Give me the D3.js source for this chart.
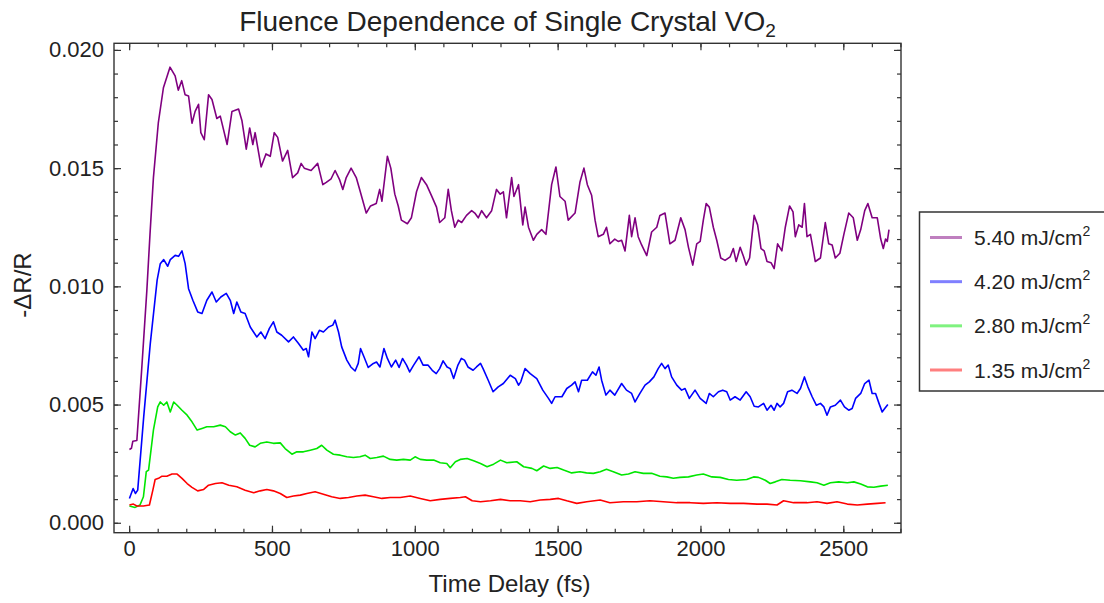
<!DOCTYPE html>
<html><head><meta charset="utf-8">
<script src="https://cdn.jsdelivr.net/npm/d3@7"></script>
<style>
body{margin:0;background:#fff}
svg{display:block}
text{font-family:"Liberation Sans",Arial,sans-serif;fill:#222}
</style>
</head><body>
<svg id="chart" width="1104" height="603"></svg>
<script>
// ---------- data (values read in units of 1e-3 of -ΔR/R) ----------
const VALUE_UNIT = 1e-3;
const xTicks = [0, 500, 1000, 1500, 2000, 2500];
const xMinorTicks = [0,100,200,300,400,500,600,700,800,900,1000,1100,1200,1300,1400,1500,1600,1700,1800,1900,2000,2100,2200,2300,2400,2500,2600,2700];
const yTicks = [0, 0.005, 0.010, 0.015, 0.020];
const yMinorTicks = [0,0.001,0.002,0.003,0.004,0.005,0.006,0.007,0.008,0.009,0.010,0.011,0.012,0.013,0.014,0.015,0.016,0.017,0.018,0.019,0.020];
const seriesLabels = ["5.40", "4.20", "2.80", "1.35"];

const purpleT = [1,8,13,27,44,62,73,85,102,120,143,161,172,184,196,208,220,231,243,251,263,278,290,307,319,343,360,383,395,410,422,433,441,462,479,494,508,520,537,555,572,590,602,613,637,660,678,690,707,721,737,748,760,777,795,807,830,845,865,877,885,904,916,930,942,953,974,988,1006,1023,1041,1058,1076,1087,1105,1117,1128,1140,1152,1164,1181,1199,1210,1222,1234,1251,1269,1286,1299,1310,1321,1339,1347,1363,1378,1386,1398,1415,1427,1444,1459,1479,1494,1508,1526,1537,1561,1578,1592,1604,1619,1631,1642,1660,1671,1683,1700,1712,1724,1736,1751,1759,1771,1782,1794,1812,1829,1847,1858,1876,1893,1911,1931,1946,1958,1973,1987,1999,2010,2020,2031,2045,2057,2071,2086,2104,2115,2125,2139,2151,2160,2172,2188,2200,2212,2223,2233,2247,2258,2270,2285,2297,2312,2324,2332,2344,2356,2364,2373,2385,2402,2420,2437,2449,2461,2472,2488,2502,2519,2535,2549,2561,2575,2586,2601,2619,2631,2640,2648,2654,2660];
const purpleV = [3.10,3.15,3.45,3.48,6.5,9.83,12.2,14.6,16.9,18.4,19.27,18.9,18.3,18.7,18.1,18.05,16.9,17.4,17.7,16.5,16.2,18.1,17.9,17.1,17.2,16.0,17.4,17.5,17.0,15.8,16.7,16.0,16.5,15.05,15.6,15.5,16.5,16.3,15.3,15.75,14.6,14.8,15.2,15.0,14.9,15.2,14.3,14.4,14.55,14.9,14.5,14.1,14.6,15.0,14.6,14.1,13.1,13.4,13.5,14.1,13.6,15.5,15.0,13.9,13.4,12.8,12.65,12.9,14.0,14.6,14.3,13.85,13.35,12.7,12.9,14.1,13.2,12.5,12.8,12.7,13.0,13.2,13.1,12.9,13.2,12.9,13.2,14.1,13.9,14.0,12.9,14.6,13.8,14.3,12.6,13.35,12.5,11.95,12.2,12.4,12.2,14.3,15.05,13.8,13.6,12.8,13.1,14.4,15.0,14.3,13.85,12.8,12.1,12.2,12.5,11.8,12.0,11.9,11.95,11.5,13.0,12.1,12.9,12.1,11.75,11.3,12.3,12.5,13.0,13.1,11.8,11.95,12.9,12.4,11.65,10.9,11.8,11.9,12.8,13.5,13.35,12.5,11.95,11.2,11.1,11.25,11.6,11.05,11.65,11.25,10.9,11.2,13.0,12.6,11.6,11.5,11.05,11.0,10.75,11.8,11.5,12.5,13.4,13.15,12.1,12.6,12.5,13.5,12.1,12.2,11.05,11.2,12.7,11.8,11.75,11.2,11.4,12.2,13.1,12.9,11.95,12.4,13.2,13.5,12.9,12.9,12.0,11.6,12.0,11.9,12.4];

const blueT = [1,14,22,30,51,74,98,109,121,135,144,161,173,185,196,208,223,240,255,272,290,305,321,340,354,366,377,391,406,424,447,461,476,491,505,517,534,558,575,593,610,620,628,640,651,666,680,698,713,721,733,744,762,776,791,802,810,822,837,855,866,878,892,904,918,933,945,957,971,982,996,1015,1029,1046,1061,1075,1087,1099,1113,1124,1136,1151,1163,1174,1186,1204,1216,1230,1239,1257,1274,1292,1310,1334,1352,1363,1371,1386,1404,1427,1448,1468,1479,1491,1515,1532,1549,1561,1573,1584,1604,1622,1634,1645,1654,1669,1683,1700,1724,1741,1759,1771,1788,1806,1821,1837,1852,1864,1876,1887,1899,1917,1934,1946,1961,1981,1999,2020,2031,2045,2063,2078,2092,2104,2121,2139,2160,2174,2188,2203,2221,2233,2247,2258,2268,2279,2291,2305,2320,2338,2350,2364,2376,2391,2406,2420,2432,2443,2455,2472,2490,2504,2519,2531,2543,2561,2575,2590,2601,2613,2625,2636,2645,2656];
const blueV = [1.03,1.45,1.24,1.38,4.48,7.58,10.26,10.96,11.13,10.85,11.13,11.31,11.27,11.5,10.96,9.9,9.41,8.92,8.85,9.41,9.76,9.34,9.55,9.7,9.41,8.85,9.34,8.92,8.85,8.28,7.86,8.07,7.79,8.22,8.5,8.07,7.93,7.65,7.86,7.58,7.3,7.37,7.02,8.07,7.79,8.14,8.07,8.28,8.36,8.57,8.07,7.44,6.88,6.59,6.42,6.74,7.37,7.02,6.57,6.74,6.8,6.59,7.37,6.95,6.59,6.88,6.57,6.95,6.67,6.38,6.67,7.02,6.67,6.67,6.45,6.31,6.52,6.85,6.59,6.52,6.1,6.67,6.95,6.88,6.59,6.45,6.59,6.74,6.52,6.03,5.54,5.75,5.89,6.24,6.1,5.82,5.96,6.52,6.31,6.1,5.61,5.26,5.05,5.33,5.33,5.68,5.82,5.96,5.54,6.03,6.03,6.38,6.24,6.59,6.03,5.4,5.61,5.4,5.89,5.61,5.47,5.11,5.47,5.82,5.96,6.17,6.52,6.74,6.52,6.67,6.17,5.82,5.61,5.68,5.26,5.61,5.26,5.05,5.47,5.33,5.54,5.61,5.54,5.19,5.33,5.19,5.54,5.33,4.93,4.9,5.05,4.76,4.97,4.76,5.05,4.9,5.05,5.54,5.61,5.47,5.68,6.17,5.75,5.33,4.97,5.05,4.9,4.55,4.9,4.97,5.19,4.9,4.76,4.83,5.26,5.47,5.89,6.03,5.47,5.47,5.05,4.69,4.83,5.0];

const greenT = [1,21,38,50,60,68,85,100,109,121,132,144,156,168,185,203,220,238,255,272,296,319,337,354,372,389,406,422,441,459,482,505,529,546,570,587,610,634,657,674,692,715,739,762,785,808,826,844,867,890,914,937,960,984,1001,1019,1042,1066,1089,1112,1124,1142,1159,1183,1206,1230,1253,1276,1300,1322,1357,1381,1410,1427,1451,1474,1498,1521,1549,1578,1601,1625,1649,1671,1695,1724,1748,1771,1800,1829,1858,1882,1905,1928,1958,1987,2010,2040,2069,2098,2127,2162,2186,2203,2227,2244,2262,2285,2314,2350,2385,2408,2432,2455,2484,2514,2537,2561,2584,2607,2631,2656];
const greenV = [0.71,0.65,0.75,1.1,2.16,2.23,3.92,4.9,5.11,4.97,5.11,4.69,5.11,4.97,4.76,4.55,4.27,3.92,3.99,4.06,4.06,4.13,4.06,3.85,3.71,3.8,3.57,3.28,3.21,3.36,3.42,3.36,3.38,3.14,2.9,3.0,3.0,3.07,3.14,3.28,3.07,2.9,2.86,2.79,2.76,2.79,2.86,2.72,2.76,2.82,2.68,2.65,2.68,2.65,2.79,2.68,2.65,2.65,2.54,2.51,2.33,2.58,2.68,2.72,2.62,2.51,2.37,2.48,2.65,2.54,2.58,2.37,2.3,2.2,2.4,2.3,2.34,2.23,2.11,2.16,2.11,2.09,2.16,2.26,2.16,2.02,2.06,2.16,2.09,2.09,1.97,1.94,1.88,1.92,1.94,2.02,2.06,1.94,1.92,1.83,1.8,1.83,1.94,1.92,1.8,1.66,1.73,1.83,1.8,1.78,1.73,1.69,1.59,1.69,1.73,1.69,1.73,1.64,1.52,1.5,1.55,1.59];

const redT = [1,15,27,50,71,83,91,103,115,132,150,168,185,203,220,240,261,278,302,325,349,377,406,436,459,482,505,529,552,575,599,622,651,680,709,739,768,797,826,855,885,914,949,984,1019,1054,1089,1124,1159,1177,1201,1230,1265,1300,1334,1369,1404,1439,1474,1503,1532,1567,1602,1649,1683,1730,1777,1823,1870,1917,1964,2010,2057,2104,2151,2198,2233,2268,2291,2326,2373,2408,2443,2478,2514,2549,2584,2619,2648];
const redV = [0.75,0.79,0.71,0.71,0.75,1.38,1.83,1.88,1.97,1.97,2.06,2.06,1.88,1.66,1.5,1.35,1.41,1.59,1.66,1.69,1.59,1.52,1.38,1.27,1.35,1.41,1.35,1.24,1.07,1.13,1.17,1.24,1.31,1.21,1.1,1.03,1.07,1.13,1.17,1.1,1.03,1.07,1.07,1.13,1.03,0.93,0.99,1.03,1.07,1.1,0.93,0.89,0.93,0.99,0.93,0.93,0.89,0.96,0.99,1.03,0.93,0.82,0.89,0.96,0.85,0.89,0.89,0.93,0.89,0.85,0.85,0.82,0.85,0.82,0.82,0.79,0.79,0.75,0.93,0.85,0.85,0.89,0.82,0.89,0.79,0.75,0.79,0.82,0.85];

// ---------- layout ----------
const W = 1104, H = 603;
const plot = {left: 114, right: 901, top: 43.3, bottom: 532.7};
const colors = ["#800080", "#0000ff", "#00e600", "#ff0000"];

const series = [
  {label: seriesLabels[0], t: purpleT, v: purpleV, color: colors[0]},
  {label: seriesLabels[1], t: blueT, v: blueV, color: colors[1]},
  {label: seriesLabels[2], t: greenT, v: greenV, color: colors[2]},
  {label: seriesLabels[3], t: redT, v: redV, color: colors[3]}
];

const svg = d3.select("#chart");
svg.append("rect").attr("width", W).attr("height", H).attr("fill", "#fff");

const x = d3.scaleLinear().domain([-53, 2702]).range([plot.left, plot.right]);
const y = d3.scaleLinear().domain([-0.00042, 0.02028]).range([plot.bottom, plot.top]);

// series lines
const line = d3.line().x(d => x(d[0])).y(d => y(d[1] * VALUE_UNIT));
const gLines = svg.append("g");
series.forEach(s => {
  gLines.append("path")
    .datum(d3.zip(s.t, s.v))
    .attr("fill", "none")
    .attr("stroke", s.color)
    .attr("stroke-width", 1.6)
    .attr("stroke-linejoin", "round")
    .attr("d", line);
});

// axes
const axisColor = "#333";
function styleAxis(g, fontSize) {
  g.select(".domain").remove();
  g.attr("color", axisColor).attr("font-family", '"Liberation Sans", Arial, sans-serif').attr("font-size", fontSize);
  g.selectAll(".tick line").attr("stroke-width", 1.2);
  g.selectAll(".tick text").attr("fill", "#222");
}
const fmtY = d3.format(".3f");
// bottom
svg.append("g").attr("transform", `translate(0,${plot.bottom})`)
  .call(d3.axisBottom(x).tickValues(xMinorTicks).tickSize(-4).tickFormat(""))
  .call(g => styleAxis(g, 22));
svg.append("g").attr("transform", `translate(0,${plot.bottom})`)
  .call(d3.axisBottom(x).tickValues(xTicks).tickSize(-7).tickPadding(8).tickFormat(d3.format("d")))
  .call(g => styleAxis(g, 22));
// top
svg.append("g").attr("transform", `translate(0,${plot.top})`)
  .call(d3.axisTop(x).tickValues(xMinorTicks).tickSize(-4).tickFormat(""))
  .call(g => styleAxis(g, 22));
svg.append("g").attr("transform", `translate(0,${plot.top})`)
  .call(d3.axisTop(x).tickValues(xTicks).tickSize(-7).tickFormat(""))
  .call(g => styleAxis(g, 22));
// left
svg.append("g").attr("transform", `translate(${plot.left},0)`)
  .call(d3.axisLeft(y).tickValues(yMinorTicks).tickSize(-4).tickFormat(""))
  .call(g => styleAxis(g, 22));
svg.append("g").attr("transform", `translate(${plot.left},0)`)
  .call(d3.axisLeft(y).tickValues(yTicks).tickSize(-7).tickPadding(10).tickFormat(fmtY))
  .call(g => styleAxis(g, 22));
// right
svg.append("g").attr("transform", `translate(${plot.right},0)`)
  .call(d3.axisRight(y).tickValues(yMinorTicks).tickSize(-4).tickFormat(""))
  .call(g => styleAxis(g, 22));
svg.append("g").attr("transform", `translate(${plot.right},0)`)
  .call(d3.axisRight(y).tickValues(yTicks).tickSize(-7).tickFormat(""))
  .call(g => styleAxis(g, 22));

// frame
svg.append("rect")
  .attr("x", plot.left).attr("y", plot.top)
  .attr("width", plot.right - plot.left).attr("height", plot.bottom - plot.top)
  .attr("fill", "none").attr("stroke", axisColor).attr("stroke-width", 1.4);

// title
const title = svg.append("text")
  .attr("x", (plot.left + plot.right) / 2).attr("y", 31)
  .attr("text-anchor", "middle").attr("font-size", 28);
title.append("tspan").text("Fluence Dependence of Single Crystal VO");
title.append("tspan").attr("font-size", 19).attr("dy", 6).text("2");

// axis labels
svg.append("text")
  .attr("x", (plot.left + plot.right) / 2 + 2).attr("y", 592)
  .attr("text-anchor", "middle").attr("font-size", 24)
  .text("Time Delay (fs)");
svg.append("text")
  .attr("transform", `translate(31,${(plot.top + plot.bottom) / 2 - 3}) rotate(-90)`)
  .attr("text-anchor", "middle").attr("font-size", 24)
  .text("-ΔR/R");

// legend
const leg = svg.append("g");
leg.append("rect")
  .attr("x", 919.5).attr("y", 212).attr("width", 200).attr("height", 179)
  .attr("fill", "#fff").attr("stroke", axisColor).attr("stroke-width", 1.5);
const legY = d3.scalePoint().domain(seriesLabels).range([237.5, 370]);
series.forEach(s => {
  const cy = legY(s.label);
  leg.append("line")
    .attr("x1", 930).attr("x2", 962).attr("y1", cy).attr("y2", cy)
    .attr("stroke", s.color).attr("stroke-opacity", 0.5).attr("stroke-width", 3);
  const t = leg.append("text").attr("x", 974).attr("y", cy + 7.5).attr("font-size", 21);
  t.append("tspan").text(s.label + " mJ/cm");
  t.append("tspan").attr("font-size", 14).attr("dy", -9).text("2");
});
</script>
</body></html>
